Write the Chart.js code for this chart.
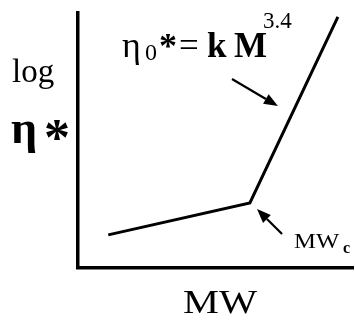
<!DOCTYPE html>
<html><head><meta charset="utf-8">
<script src="https://cdn.jsdelivr.net/npm/chart.js@4.4.1/dist/chart.umd.min.js"></script>
<style>html,body{margin:0;padding:0;background:#fff}</style>
</head><body>
<canvas id="c" width="355" height="324"></canvas>
<script>
// Schematic zero-shear viscosity vs molecular weight (log-log, arbitrary units)
const logMW = [1.1, 6.25, 9.45];
const logEta = [1.3, 2.55, 9.85];
const xTitle = 'MW';
const yTitle = ['log', 'η', '*'];
// arrow pointing at the steep (power-law) branch: tail, tip in data units
const powerLawArrow = [5.6, 7.41, 7.27, 6.35];
// arrow pointing at the critical molecular weight knee
const criticalArrow = [7.42, 1.33, 6.51, 2.31];

const serif = '"Liberation Serif", "Times New Roman", serif';

function arrow(ctx, x0, y0, x1, y1) {
  const a = Math.atan2(y1 - y0, x1 - x0);
  const len = 14, half = 5.5;
  const bx = x1 - len * Math.cos(a), by = y1 - len * Math.sin(a);
  ctx.beginPath();
  ctx.moveTo(x0, y0);
  ctx.lineTo(bx, by);
  ctx.lineWidth = 2.2;
  ctx.strokeStyle = '#000';
  ctx.stroke();
  ctx.beginPath();
  ctx.moveTo(x1, y1);
  ctx.lineTo(bx + half * Math.sin(a), by - half * Math.cos(a));
  ctx.lineTo(bx - half * Math.sin(a), by + half * Math.cos(a));
  ctx.closePath();
  ctx.fillStyle = '#000';
  ctx.fill();
}

// text drawn with a horizontal stretch, left edge at x
function wide(ctx, t, x, y, sx) {
  ctx.save();
  ctx.translate(x, y);
  ctx.scale(sx, 1);
  ctx.fillText(t, 0, 0);
  ctx.restore();
}

const labels = {
  id: 'labels',
  afterDraw(chart) {
    const {ctx, scales: {x, y}} = chart;
    ctx.save();
    ctx.fillStyle = '#000';
    ctx.textBaseline = 'alphabetic';
    ctx.textAlign = 'left';

    // y-axis title, written horizontally on two lines
    ctx.font = '33px ' + serif;
    ctx.fillText(yTitle[0], 12, 82);
    ctx.font = 'bold 46px ' + serif;
    ctx.fillText(yTitle[1], 11, 143);
    ctx.font = 'bold 52px ' + serif;
    ctx.fillText(yTitle[2], 44, 155);

    // x-axis title
    ctx.font = '34px ' + serif;
    wide(ctx, xTitle, 183, 313, 1.19);

    // power-law equation: η0* = k M^3.4
    ctx.font = '36px ' + serif;
    ctx.fillText('η', 122, 57);
    ctx.font = '24px ' + serif;
    ctx.fillText('0', 145, 60);
    ctx.font = 'bold 36px ' + serif;
    ctx.fillText('*', 159, 58);
    ctx.font = '35px ' + serif;
    ctx.fillText('=', 179, 57);
    ctx.font = 'bold 35px ' + serif;
    ctx.fillText('k', 207, 57);
    ctx.fillText('M', 234, 57);
    ctx.font = '23px ' + serif;
    ctx.fillText('3.4', 263, 28);

    // critical molecular weight label
    ctx.font = '22px ' + serif;
    wide(ctx, 'MW', 294, 248, 1.12);
    ctx.font = 'bold 16px ' + serif;
    ctx.fillText('c', 343, 253);

    arrow(ctx, x.getPixelForValue(powerLawArrow[0]), y.getPixelForValue(powerLawArrow[1]),
               x.getPixelForValue(powerLawArrow[2]), y.getPixelForValue(powerLawArrow[3]));
    arrow(ctx, x.getPixelForValue(criticalArrow[0]), y.getPixelForValue(criticalArrow[1]),
               x.getPixelForValue(criticalArrow[2]), y.getPixelForValue(criticalArrow[3]));
    ctx.restore();
  }
};

new Chart(document.getElementById('c'), {
  type: 'scatter',
  data: {
    datasets: [{
      data: logMW.map((v, i) => ({x: v, y: logEta[i]})),
      showLine: true,
      borderColor: '#000',
      borderWidth: 3,
      pointRadius: 0,
      fill: false,
      tension: 0
    }]
  },
  options: {
    responsive: false,
    animation: false,
    devicePixelRatio: 1,
    layout: {padding: {left: 78, right: 2, top: 13, bottom: 56}},
    plugins: {legend: {display: false}, tooltip: {enabled: false}},
    scales: {
      x: {
        type: 'linear', min: 0, max: 10,
        ticks: {display: false},
        grid: {display: false, drawTicks: false},
        border: {display: true, color: '#000', width: 3.5}
      },
      y: {
        type: 'linear', min: 0, max: 10,
        ticks: {display: false},
        grid: {display: false, drawTicks: false},
        border: {display: true, color: '#000', width: 3.5}
      }
    }
  },
  plugins: [labels]
});
</script>
</body></html>
